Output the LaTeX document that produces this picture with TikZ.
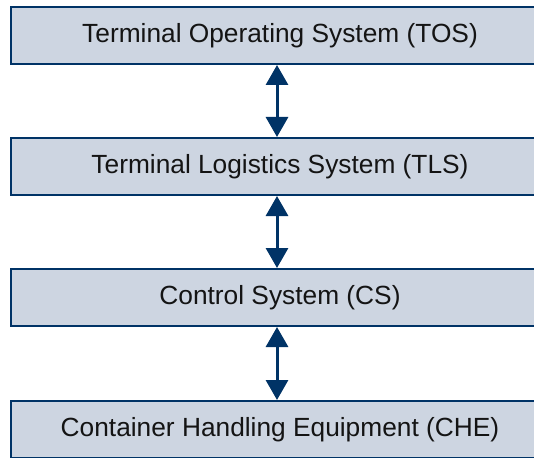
\documentclass[tikz,border=0pt]{standalone}
\usepackage{fontspec}
\setmainfont{Liberation Sans}
\usepackage{tikz}
\usepackage{xcolor}
\usetikzlibrary{positioning}
\usetikzlibrary{arrows.meta}

\definecolor{navy}{RGB}{0,51,102}
\definecolor{boxfill}{RGB}{205,213,225}
\definecolor{textgray}{RGB}{20,20,20}

\begin{document}
\begin{tikzpicture}[x=1pt,y=1pt,
        layer/.style={draw=navy,line width=2pt,fill=boxfill,minimum width=600pt,minimum height=57pt,inner sep=0pt},
        caption/.style={inner sep=0pt,text=textgray,font=\fontsize{26.3}{31}\selectfont},
        link/.style={{Triangle[width=22pt,length=20pt]}-{Triangle[width=22pt,length=20pt]},navy,line width=3pt},
        node distance=72pt]
        \clip (0,0) rectangle (534,-457);

        \node[layer] (tos) at (311,-35.5) {};
        \node[layer,below=of tos] (tls) {};
        \node[layer,below=of tls] (cs) {};
        \node[layer,below=73pt of cs] (che) {};
        \coordinate (axis) at (277,0);

        \node[caption] (tostext) at ([xshift=-31pt]tos.center) {Terminal Operating System (TOS)};
        \node[caption] (tlstext) at ([xshift=-31pt]tls.center) {Terminal Logistics System (TLS)};
        \node[caption] (cstext) at ([xshift=-31pt]cs.center) {Control System (CS)};
        \node[caption] (chetext) at ([xshift=-31pt]che.center) {Container Handling Equipment (CHE)};

        \draw[link] (tos.south -| axis) -- (tls.north -| axis);
        \draw[link] (tls.south -| axis) -- (cs.north -| axis);
        \draw[link] (cs.south -| axis) -- (che.north -| axis);
    \end{tikzpicture}
\end{document}
